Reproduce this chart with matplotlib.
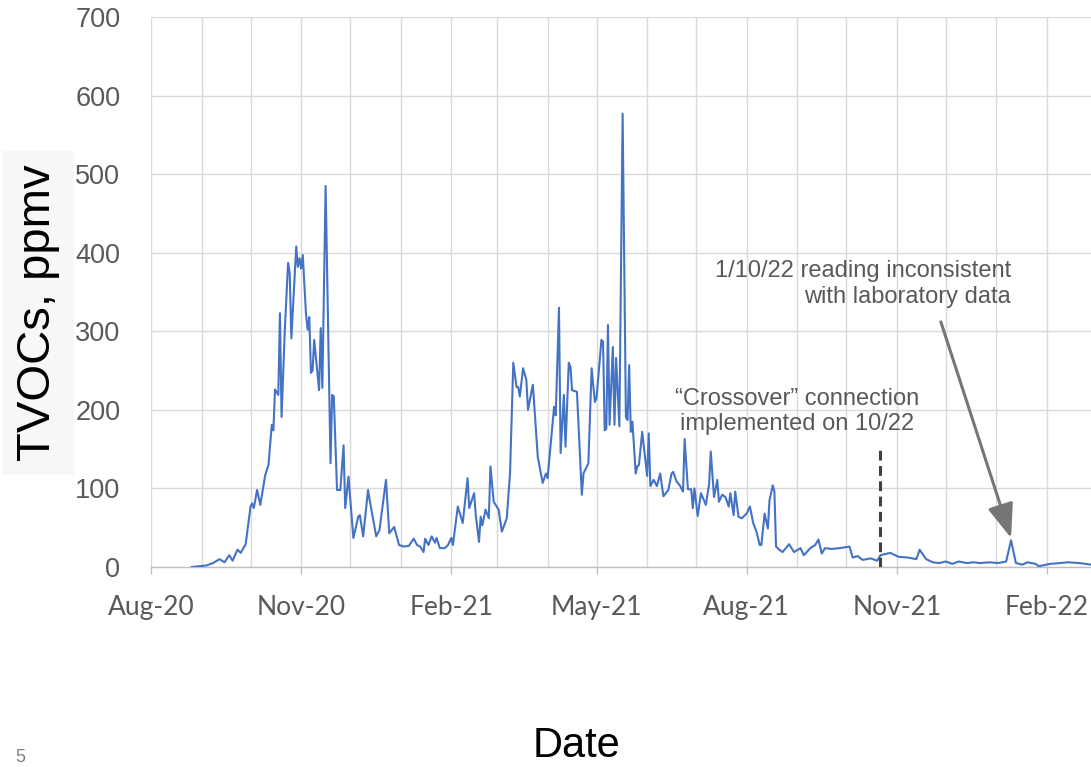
import matplotlib
matplotlib.use("Agg")
import matplotlib.pyplot as plt
import matplotlib.dates as mdates
import pandas as pd

# TVOC readings
dates = [
    "2020-08-26", "2020-09-04", "2020-09-08", "2020-09-12", "2020-09-15", "2020-09-18",
    "2020-09-20", "2020-09-23", "2020-09-25", "2020-09-28", "2020-10-01", "2020-10-02",
    "2020-10-03", "2020-10-05", "2020-10-07", "2020-10-10", "2020-10-12", "2020-10-14",
    "2020-10-15", "2020-10-16", "2020-10-18", "2020-10-19", "2020-10-20", "2020-10-22",
    "2020-10-24", "2020-10-25", "2020-10-26", "2020-10-29", "2020-10-30", "2020-10-31",
    "2020-11-01", "2020-11-02", "2020-11-04", "2020-11-05", "2020-11-06", "2020-11-07",
    "2020-11-08", "2020-11-09", "2020-11-12", "2020-11-13", "2020-11-14", "2020-11-16",
    "2020-11-19", "2020-11-20", "2020-11-21", "2020-11-23", "2020-11-25", "2020-11-27",
    "2020-11-28", "2020-11-30", "2020-12-03", "2020-12-06", "2020-12-07", "2020-12-09",
    "2020-12-12", "2020-12-13", "2020-12-17", "2020-12-19", "2020-12-23", "2020-12-25",
    "2020-12-28", "2020-12-31", "2021-01-03", "2021-01-06", "2021-01-09", "2021-01-11",
    "2021-01-13", "2021-01-15", "2021-01-16", "2021-01-18", "2021-01-20", "2021-01-22",
    "2021-01-23", "2021-01-25", "2021-01-28", "2021-01-30", "2021-02-01", "2021-02-02",
    "2021-02-05", "2021-02-08", "2021-02-11", "2021-02-12", "2021-02-15", "2021-02-16",
    "2021-02-18", "2021-02-19", "2021-02-20", "2021-02-22", "2021-02-24", "2021-02-25",
    "2021-02-27", "2021-03-02", "2021-03-04", "2021-03-07", "2021-03-09", "2021-03-11",
    "2021-03-13", "2021-03-14", "2021-03-15", "2021-03-17", "2021-03-19", "2021-03-20",
    "2021-03-23", "2021-03-25", "2021-03-26", "2021-03-29", "2021-03-31", "2021-04-01",
    "2021-04-03", "2021-04-05", "2021-04-06", "2021-04-08", "2021-04-09", "2021-04-11",
    "2021-04-12", "2021-04-14", "2021-04-15", "2021-04-16", "2021-04-19", "2021-04-22",
    "2021-04-23", "2021-04-26", "2021-04-28", "2021-04-30", "2021-05-01", "2021-05-04",
    "2021-05-05", "2021-05-06", "2021-05-07", "2021-05-08", "2021-05-09", "2021-05-11",
    "2021-05-12", "2021-05-13", "2021-05-15", "2021-05-17", "2021-05-19", "2021-05-20",
    "2021-05-21", "2021-05-22", "2021-05-23", "2021-05-25", "2021-05-26", "2021-05-27",
    "2021-05-29", "2021-06-01", "2021-06-02", "2021-06-03", "2021-06-05", "2021-06-07",
    "2021-06-09", "2021-06-11", "2021-06-14", "2021-06-16", "2021-06-17", "2021-06-19",
    "2021-06-21", "2021-06-23", "2021-06-24", "2021-06-26", "2021-06-28", "2021-06-29",
    "2021-06-30", "2021-07-02", "2021-07-04", "2021-07-07", "2021-07-09", "2021-07-10",
    "2021-07-12", "2021-07-14", "2021-07-15", "2021-07-17", "2021-07-19", "2021-07-21",
    "2021-07-22", "2021-07-24", "2021-07-25", "2021-07-27", "2021-07-29", "2021-08-01",
    "2021-08-03", "2021-08-05", "2021-08-07", "2021-08-09", "2021-08-10", "2021-08-12",
    "2021-08-14", "2021-08-15", "2021-08-17", "2021-08-18", "2021-08-19", "2021-08-21",
    "2021-08-23", "2021-08-27", "2021-08-30", "2021-09-03", "2021-09-05", "2021-09-09",
    "2021-09-12", "2021-09-14", "2021-09-16", "2021-09-18", "2021-09-22", "2021-09-27",
    "2021-10-03", "2021-10-05", "2021-10-08", "2021-10-11", "2021-10-16", "2021-10-20",
    "2021-10-22", "2021-10-28", "2021-11-02", "2021-11-08", "2021-11-13", "2021-11-15",
    "2021-11-19", "2021-11-23", "2021-11-27", "2021-12-01", "2021-12-05", "2021-12-09",
    "2021-12-14", "2021-12-18", "2021-12-22", "2021-12-28", "2022-01-02", "2022-01-07",
    "2022-01-10", "2022-01-13", "2022-01-17", "2022-01-20", "2022-01-25", "2022-01-27",
    "2022-02-03", "2022-02-09", "2022-02-14", "2022-02-21", "2022-02-28",
]
tvocs = [
    0, 2, 5, 10, 6, 15,
    8, 22, 18, 29, 77, 81,
    75, 98, 79, 117, 130, 181,
    174, 226, 219, 323, 191, 302,
    387, 374, 291, 408, 382, 393,
    380, 397, 321, 302, 318, 247,
    250, 289, 225, 304, 228, 485,
    132, 219, 217, 98, 98, 155,
    75, 115, 37, 64, 66, 39,
    98, 85, 39, 47, 111, 43,
    51, 28, 26, 27, 36, 28,
    26, 19, 36, 28, 39, 31,
    37, 24, 24, 28, 37, 28,
    77, 56, 113, 75, 94, 66,
    32, 64, 53, 73, 62, 128,
    83, 73, 45, 62, 119, 260,
    229, 229, 217, 253, 238, 200,
    232, 170, 140, 107, 119, 113,
    158, 204, 193, 330, 145, 219,
    153, 260, 255, 225, 223, 92,
    119, 132, 253, 210, 215, 289,
    287, 174, 176, 308, 181, 280,
    181, 266, 179, 577, 191, 187,
    257, 172, 185, 119, 128, 130,
    172, 116, 170, 103, 111, 103,
    119, 90, 98, 119, 121, 109,
    104, 96, 163, 99, 99, 75,
    100, 65, 94, 79, 106, 147,
    89, 111, 83, 92, 89, 77,
    94, 66, 96, 64, 62, 68,
    77, 56, 45, 28, 28, 68,
    49, 85, 104, 96, 26, 22,
    19, 29, 19, 24, 15, 24,
    28, 35, 17, 24, 23, 24,
    26, 12, 14, 9, 11, 8,
    15, 18, 13, 12, 10, 22,
    10, 6, 5, 7, 4, 7,
    5, 6, 5, 6, 5, 7,
    34, 5, 3, 6, 4, 1,
    4, 5, 6, 5, 3,
]

y_ticks = [0, 100, 200, 300, 400, 500, 600, 700]
x_start = "2020-08-01"
x_end = "2022-02-28"

crossover_date = "2021-10-22"
crossover_top = 150
crossover_text = "\u201cCrossover\u201d connection\nimplemented on 10/22"

flag_date = "2022-01-10"
flag_value = 37
arrow_tail_date = "2021-11-28"
arrow_tail_value = 312
flag_text = "1/10/22 reading inconsistent\nwith laboratory data"

grey_text = "#595959"
grid_col = "#d9d9d9"

fig = plt.figure(figsize=(10.91, 7.67), dpi=100)
ax = fig.add_axes([151 / 1091, 1 - 567 / 767, 1 - 151 / 1091, 550 / 767])

ax.plot(pd.to_datetime(dates), tvocs, color="#4472C4", lw=1.5, zorder=3)

# dashed marker for the crossover connection
cd = pd.Timestamp(crossover_date)
ax.plot([cd, cd], [0, crossover_top], color="#404040", lw=2.2,
        linestyle=(0, (3.2, 1.8)), zorder=4)
ax.text(pd.Timestamp("2021-09-01"), 198, crossover_text, ha="center", va="center",
        fontsize=17, color=grey_text, family="Liberation Sans", linespacing=1.2)

# arrow to the suspect reading
ax.annotate("", xy=(pd.Timestamp(flag_date), flag_value),
            xytext=(pd.Timestamp(arrow_tail_date), arrow_tail_value),
            arrowprops=dict(arrowstyle="-|>,head_length=1.05,head_width=0.4",
                            mutation_scale=20, lw=2.2, color="#767676",
                            shrinkA=0, shrinkB=0), zorder=5)
ax.text(pd.Timestamp("2022-01-10"), 360, flag_text, ha="right", va="center",
        fontsize=17, color=grey_text, family="Liberation Sans", linespacing=1.2)

ax.set_xlim(pd.Timestamp(x_start), pd.Timestamp(x_end))
ax.set_ylim(0, 700)
ax.set_yticks(y_ticks)

ax.xaxis.set_major_locator(mdates.MonthLocator(bymonth=[2, 5, 8, 11]))
ax.xaxis.set_minor_locator(mdates.MonthLocator())
ax.xaxis.set_major_formatter(mdates.DateFormatter("%b-%y"))

ax.grid(True, which="both", axis="x", color=grid_col, lw=1.0)
ax.grid(True, which="major", axis="y", color=grid_col, lw=1.0)
ax.set_axisbelow(True)

for s in ["top", "right", "left"]:
    ax.spines[s].set_visible(False)
ax.spines["bottom"].set_color("#bfbfbf")
ax.spines["bottom"].set_linewidth(1.0)

ax.tick_params(axis="y", length=0, pad=22, labelsize=19.5, labelcolor=grey_text)
ax.tick_params(axis="x", which="major", length=5, width=1, color="#bfbfbf",
               pad=15, labelsize=19, labelcolor=grey_text)
ax.tick_params(axis="x", which="minor", length=0)
for lab in ax.get_yticklabels():
    lab.set_family("Liberation Sans")
for lab in ax.get_xticklabels():
    lab.set_family("Lato")

fig.text(38 / 1091, 1 - 313 / 767, "TVOCs, ppmv", rotation=90, ha="center", va="center",
         fontsize=34, family="Liberation Sans", color="black",
         bbox=dict(boxstyle="square,pad=0.3", facecolor="#f7f7f7", edgecolor="none"))
fig.text(577 / 1091, 1 / 767, "Date", ha="center", va="bottom",
         fontsize=30, family="Liberation Sans", color="black")
fig.text(20 / 1091, 1 / 767, "5", ha="center", va="bottom",
         fontsize=13, color="#808080", family="Liberation Sans")

fig.savefig("out.png", dpi=100, facecolor="white")
